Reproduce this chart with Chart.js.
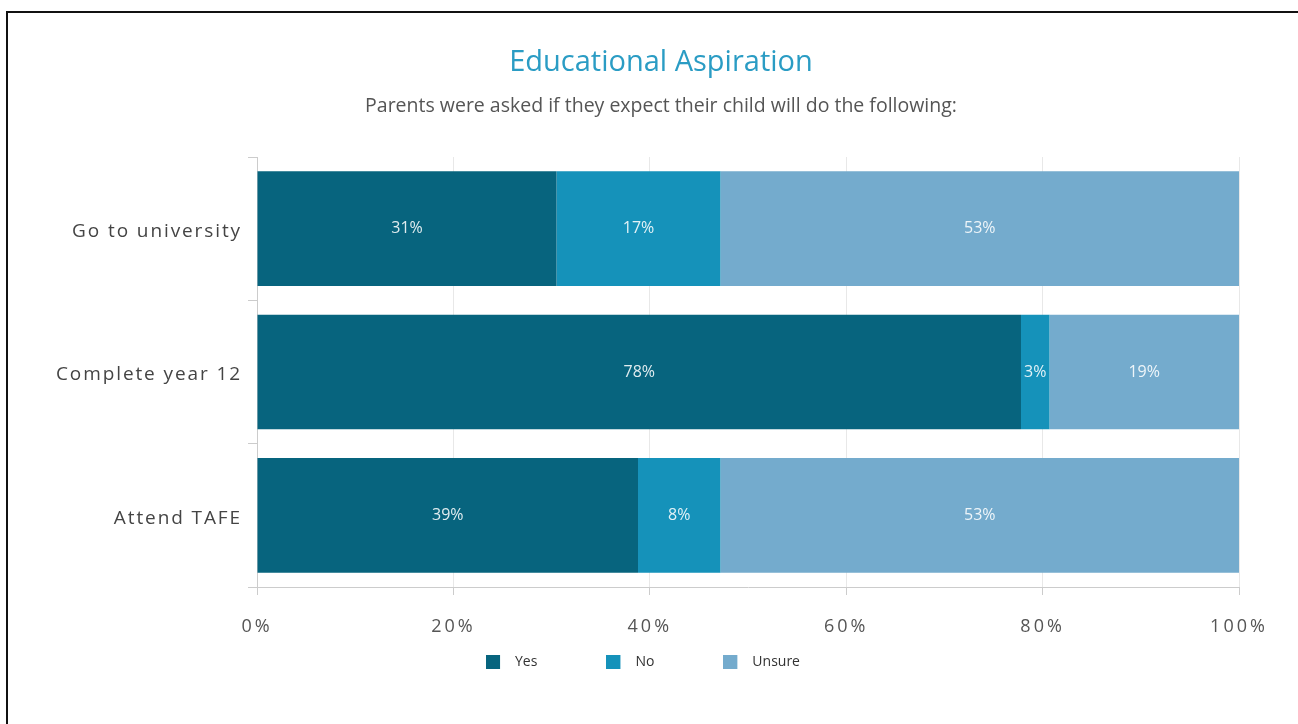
<!DOCTYPE html>
<html>
<head>
<meta charset="utf-8">
<script src="https://cdn.jsdelivr.net/npm/chart.js@4"></script>
<style>
html,body{margin:0;padding:0;background:#fff;overflow:hidden;}
#wrap{position:relative;width:1298px;height:724px;}
#frame{position:absolute;left:6px;top:11px;width:1300px;height:720px;border-top:2px solid #111;border-left:2px solid #111;pointer-events:none;}
</style>
</head>
<body>
<div id="wrap"><canvas id="c" width="1298" height="724"></canvas><div id="frame"></div></div>
<script>
// ---- data ----
const categories = ['Go to university', 'Complete year 12', 'Attend TAFE'];
const seriesNames = ['Yes', 'No', 'Unsure'];
const yesValues = [30.5, 77.8, 38.8];
const noValues = [16.7, 2.9, 8.4];
const unsureValues = [52.8, 19.3, 52.8];
const xTickValues = [0, 20, 40, 60, 80, 100];
const seriesColors = ['#07647e', '#1592ba', '#74abcd'];

// ---- styling helpers (letter spacing of axis labels, legend / title placement) ----
const X_LETTER_SPACING = '3px';
const Y_LETTER_SPACING = '1.9px';
const origDrawLabels = Chart.Scale.prototype.drawLabels;
Chart.Scale.prototype.drawLabels = function (ca) {
  const ctx = this.ctx;
  const isY = this.axis === 'y';
  const l = this.left;
  if (isY) this.left = 0; // avoid clipping the long category labels
  ctx.save();
  try { ctx.letterSpacing = isY ? Y_LETTER_SPACING : X_LETTER_SPACING; } catch (e) {}
  origDrawLabels.call(this, ca);
  ctx.restore();
  if (isY) this.left = l;
};

const LEGEND_BOX_H = 50;
const LEGEND_ITEM_OFFSET = 22;
const LEGEND_DX = -11;
const TITLE_DX = 7;
const legendPlugin = Chart.registry.getPlugin('legend');
if (legendPlugin && legendPlugin._element) {
  const LP = legendPlugin._element.prototype;
  const oFit = LP.fit;
  LP.fit = function () { oFit.call(this); if (this.isHorizontal()) this.height = LEGEND_BOX_H; };
  const oDraw = LP.draw;
  LP.draw = function () {
    const t = this.top;
    const pad = this.options.labels.padding;
    this.top = t - pad + LEGEND_ITEM_OFFSET;
    this.ctx.save();
    this.ctx.translate(LEGEND_DX, 0);
    oDraw.call(this);
    this.ctx.restore();
    this.top = t;
  };
}
const titlePlugin = Chart.registry.getPlugin('title');
if (titlePlugin && titlePlugin._element) {
  const TP = titlePlugin._element.prototype;
  const oTDraw = TP.draw;
  TP.draw = function () {
    this.ctx.save();
    this.ctx.translate(TITLE_DX, 0);
    oTDraw.call(this);
    this.ctx.restore();
  };
}

// legend icons: a 14px square at the left of a 22px wide slot
const legendIcons = seriesColors.map(c => {
  const cv = document.createElement('canvas');
  cv.width = 22; cv.height = 14;
  const g = cv.getContext('2d');
  g.fillStyle = c;
  g.fillRect(0, 0, 14, 14);
  return cv;
});

const barLabels = {
  id: 'barLabels',
  afterDatasetsDraw(chart) {
    const ctx = chart.ctx;
    ctx.save();
    ctx.font = '16px "Open Sans"';
    ctx.fillStyle = 'rgba(255,255,255,0.88)';
    ctx.textAlign = 'center';
    ctx.textBaseline = 'middle';
    chart.data.datasets.forEach((ds, i) => {
      const meta = chart.getDatasetMeta(i);
      meta.data.forEach((el, j) => {
        const p = el.getProps(['x', 'y', 'base'], true);
        ctx.fillText(Math.round(ds.data[j]) + '%', (p.x + p.base) / 2, p.y);
      });
    });
    ctx.restore();
  }
};

const seriesValues = [yesValues, noValues, unsureValues];

new Chart(document.getElementById('c'), {
  type: 'bar',
  data: {
    labels: categories,
    datasets: seriesNames.map((n, i) => ({
      label: n,
      data: seriesValues[i],
      backgroundColor: seriesColors[i],
      borderWidth: 0,
      categoryPercentage: 0.8,
      barPercentage: 1.0
    }))
  },
  options: {
    indexAxis: 'y',
    responsive: false,
    animation: false,
    layout: { padding: { left: 69, right: 59, top: 0, bottom: 41 } },
    plugins: {
      title: {
        display: true,
        text: 'Educational Aspiration',
        color: '#2a9cc4',
        font: { family: 'Open Sans', size: 29, weight: 'normal' },
        padding: { top: 45.6, bottom: 0 }
      },
      subtitle: {
        display: true,
        text: 'Parents were asked if they expect their child will do the following:',
        color: '#555',
        font: { family: 'Open Sans', size: 19.5, weight: 'normal' },
        padding: { top: 13.9, bottom: 39.3 }
      },
      legend: {
        position: 'bottom',
        labels: {
          usePointStyle: true,
          pointStyleWidth: 22,
          boxWidth: 14,
          boxHeight: 14,
          padding: 69,
          color: '#333',
          font: { family: 'Open Sans', size: 14 },
          generateLabels: chart => Chart.defaults.plugins.legend.labels.generateLabels(chart)
            .map((it, i) => Object.assign({}, it, { pointStyle: legendIcons[i] }))
        }
      },
      tooltip: { enabled: false }
    },
    scales: {
      x: {
        type: 'linear',
        stacked: true,
        min: 0,
        max: 100,
        afterBuildTicks: s => { s.ticks = xTickValues.map(v => ({ value: v })); },
        afterFit: s => { s.height = 46; },
        grid: { color: '#e8e8e8', tickColor: '#ccc', tickLength: 8 },
        border: { color: '#ccc' },
        ticks: {
          color: '#555',
          font: { family: 'Open Sans', size: 18 },
          padding: 21,
          callback: v => v + '%'
        }
      },
      y: {
        type: 'category',
        stacked: true,
        grid: { offset: true, drawOnChartArea: false, drawTicks: true, tickLength: 9, color: '#ccc' },
        border: { display: true, color: '#ccc' },
        ticks: { color: '#444', font: { family: 'Open Sans', size: 19 }, padding: 6, labelOffset: 3 },
        afterFit: s => { s.width = 188; }
      }
    }
  },
  plugins: [barLabels]
});
</script>
</body>
</html>
